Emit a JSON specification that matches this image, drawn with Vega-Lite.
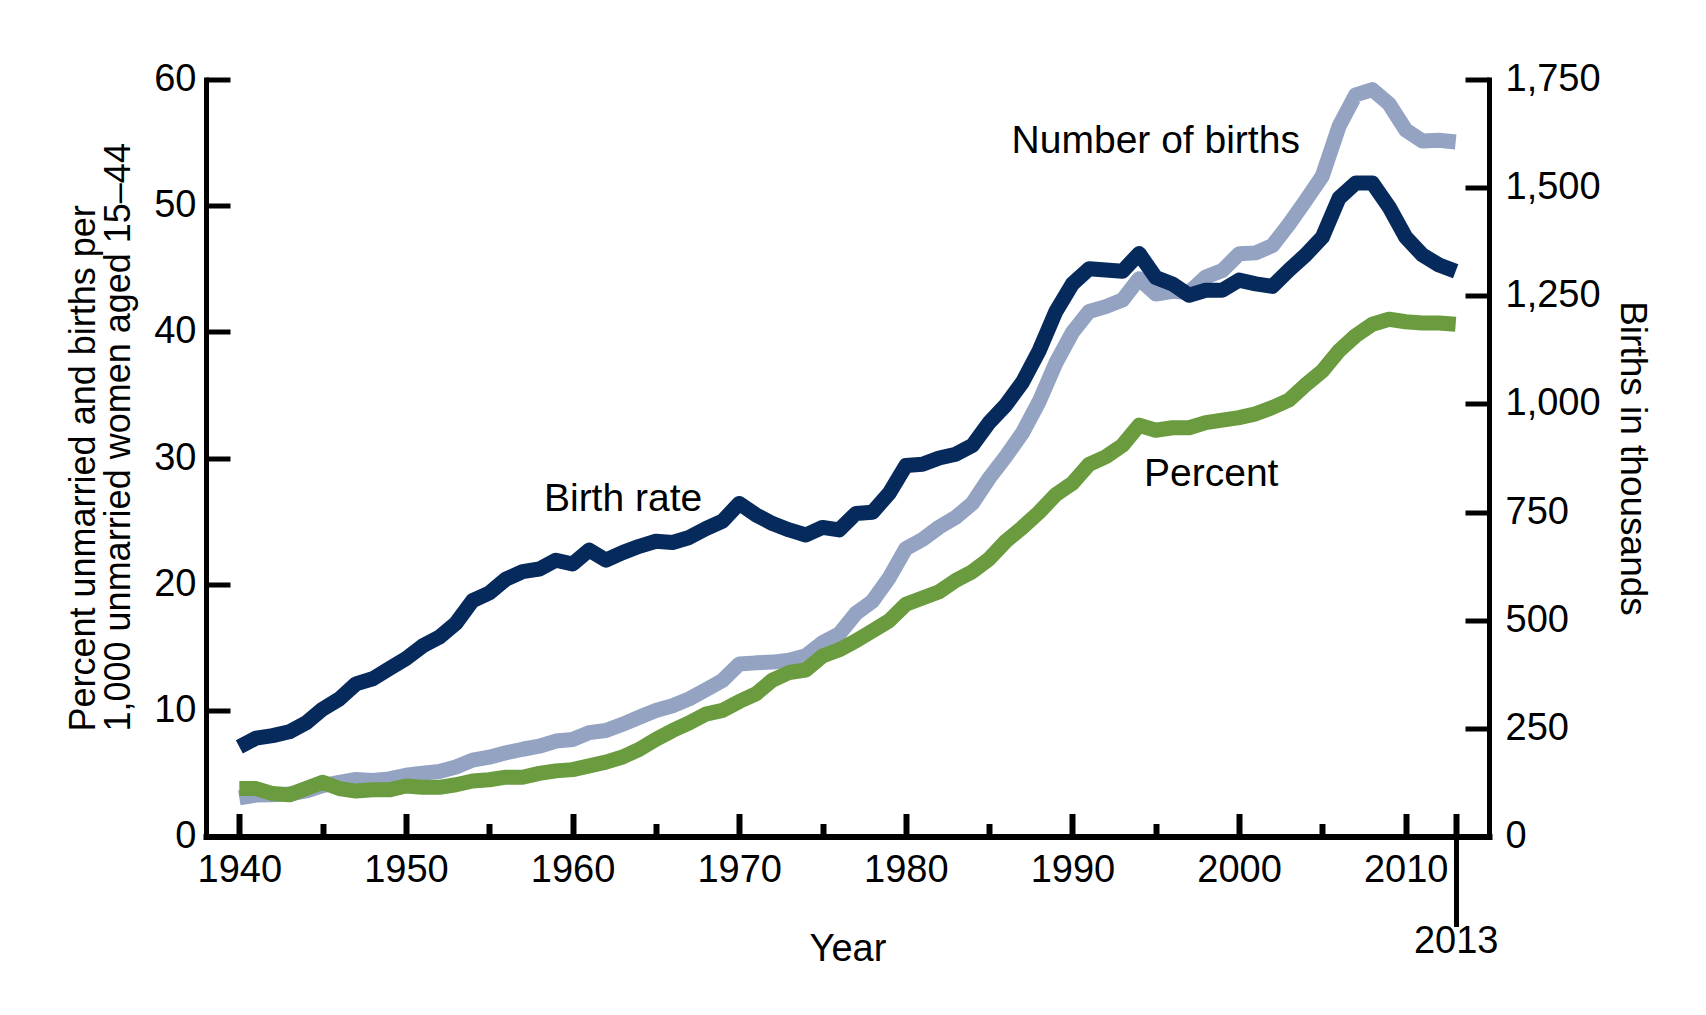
{
  "$schema": "https://vega.github.io/schema/vega-lite/v6.json",
  "width": 1283,
  "height": 757,
  "autosize": {"type": "none"},
  "padding": {"left": 206, "top": 79.5, "right": 217, "bottom": 178.5},
  "background": "white",
  "config": {
    "view": {"stroke": null},
    "font": "Liberation Sans",
    "axis": {
      "grid": false,
      "domainColor": "black",
      "tickColor": "black",
      "labelColor": "black",
      "titleColor": "black",
      "labelFont": "Liberation Sans",
      "titleFont": "Liberation Sans",
      "titleFontWeight": "normal",
      "labelOverlap": false,
      "labelFlush": false
    }
  },
  "data": {
    "values": [
      {"year": 1940, "rate": 7.1, "pct": 3.8, "births": 89.5},
      {"year": 1941, "rate": 7.8, "pct": 3.8, "births": 95.7},
      {"year": 1942, "rate": 8.0, "pct": 3.4, "births": 96.5},
      {"year": 1943, "rate": 8.3, "pct": 3.3, "births": 98.1},
      {"year": 1944, "rate": 9.0, "pct": 3.8, "births": 105.2},
      {"year": 1945, "rate": 10.1, "pct": 4.3, "births": 117.4},
      {"year": 1946, "rate": 10.9, "pct": 3.8, "births": 125.2},
      {"year": 1947, "rate": 12.1, "pct": 3.6, "births": 131.9},
      {"year": 1948, "rate": 12.5, "pct": 3.7, "births": 129.7},
      {"year": 1949, "rate": 13.3, "pct": 3.7, "births": 133.2},
      {"year": 1950, "rate": 14.1, "pct": 4.0, "births": 141.6},
      {"year": 1951, "rate": 15.1, "pct": 3.9, "births": 146.5},
      {"year": 1952, "rate": 15.8, "pct": 3.9, "births": 150.3},
      {"year": 1953, "rate": 16.9, "pct": 4.1, "births": 160.8},
      {"year": 1954, "rate": 18.7, "pct": 4.4, "births": 176.6},
      {"year": 1955, "rate": 19.3, "pct": 4.5, "births": 183.3},
      {"year": 1956, "rate": 20.4, "pct": 4.7, "births": 193.5},
      {"year": 1957, "rate": 21.0, "pct": 4.7, "births": 201.7},
      {"year": 1958, "rate": 21.2, "pct": 5.0, "births": 208.7},
      {"year": 1959, "rate": 21.9, "pct": 5.2, "births": 220.6},
      {"year": 1960, "rate": 21.6, "pct": 5.3, "births": 224.3},
      {"year": 1961, "rate": 22.7, "pct": 5.6, "births": 240.2},
      {"year": 1962, "rate": 21.9, "pct": 5.9, "births": 245.1},
      {"year": 1963, "rate": 22.5, "pct": 6.3, "births": 259.4},
      {"year": 1964, "rate": 23.0, "pct": 6.9, "births": 275.7},
      {"year": 1965, "rate": 23.4, "pct": 7.7, "births": 291.2},
      {"year": 1966, "rate": 23.3, "pct": 8.4, "births": 302.4},
      {"year": 1967, "rate": 23.7, "pct": 9.0, "births": 318.1},
      {"year": 1968, "rate": 24.4, "pct": 9.7, "births": 339.2},
      {"year": 1969, "rate": 25.0, "pct": 10.0, "births": 360.8},
      {"year": 1970, "rate": 26.4, "pct": 10.7, "births": 398.7},
      {"year": 1971, "rate": 25.5, "pct": 11.3, "births": 401.4},
      {"year": 1972, "rate": 24.8, "pct": 12.4, "births": 403.2},
      {"year": 1973, "rate": 24.3, "pct": 13.0, "births": 407.3},
      {"year": 1974, "rate": 23.9, "pct": 13.2, "births": 418.1},
      {"year": 1975, "rate": 24.5, "pct": 14.3, "births": 447.9},
      {"year": 1976, "rate": 24.3, "pct": 14.8, "births": 468.1},
      {"year": 1977, "rate": 25.6, "pct": 15.5, "births": 515.7},
      {"year": 1978, "rate": 25.7, "pct": 16.3, "births": 543.9},
      {"year": 1979, "rate": 27.2, "pct": 17.1, "births": 597.8},
      {"year": 1980, "rate": 29.4, "pct": 18.4, "births": 665.7},
      {"year": 1981, "rate": 29.5, "pct": 18.9, "births": 686.6},
      {"year": 1982, "rate": 30.0, "pct": 19.4, "births": 715.2},
      {"year": 1983, "rate": 30.3, "pct": 20.3, "births": 737.9},
      {"year": 1984, "rate": 31.0, "pct": 21.0, "births": 770.4},
      {"year": 1985, "rate": 32.8, "pct": 22.0, "births": 828.2},
      {"year": 1986, "rate": 34.2, "pct": 23.4, "births": 878.5},
      {"year": 1987, "rate": 36.0, "pct": 24.5, "births": 933.0},
      {"year": 1988, "rate": 38.5, "pct": 25.7, "births": 1005.3},
      {"year": 1989, "rate": 41.6, "pct": 27.1, "births": 1094.2},
      {"year": 1990, "rate": 43.8, "pct": 28.0, "births": 1165.4},
      {"year": 1991, "rate": 45.0, "pct": 29.5, "births": 1213.8},
      {"year": 1992, "rate": 44.9, "pct": 30.1, "births": 1224.9},
      {"year": 1993, "rate": 44.8, "pct": 31.0, "births": 1240.2},
      {"year": 1994, "rate": 46.2, "pct": 32.6, "births": 1289.6},
      {"year": 1995, "rate": 44.3, "pct": 32.2, "births": 1253.9},
      {"year": 1996, "rate": 43.8, "pct": 32.4, "births": 1260.3},
      {"year": 1997, "rate": 42.9, "pct": 32.4, "births": 1257.4},
      {"year": 1998, "rate": 43.3, "pct": 32.8, "births": 1293.6},
      {"year": 1999, "rate": 43.3, "pct": 33.0, "births": 1308.6},
      {"year": 2000, "rate": 44.1, "pct": 33.2, "births": 1347.0},
      {"year": 2001, "rate": 43.8, "pct": 33.5, "births": 1349.2},
      {"year": 2002, "rate": 43.6, "pct": 34.0, "births": 1366.0},
      {"year": 2003, "rate": 44.9, "pct": 34.6, "births": 1415.8},
      {"year": 2004, "rate": 46.1, "pct": 35.8, "births": 1470.2},
      {"year": 2005, "rate": 47.5, "pct": 36.9, "births": 1527.0},
      {"year": 2006, "rate": 50.6, "pct": 38.5, "births": 1641.9},
      {"year": 2007, "rate": 51.8, "pct": 39.7, "births": 1714.6},
      {"year": 2008, "rate": 51.8, "pct": 40.6, "births": 1726.6},
      {"year": 2009, "rate": 49.9, "pct": 41.0, "births": 1693.7},
      {"year": 2010, "rate": 47.5, "pct": 40.8, "births": 1633.5},
      {"year": 2011, "rate": 46.1, "pct": 40.7, "births": 1607.8},
      {"year": 2012, "rate": 45.3, "pct": 40.7, "births": 1609.6},
      {"year": 2013, "rate": 44.8, "pct": 40.6, "births": 1605.6}
    ]
  },
  "layer": [
    {
      "mark": {"type": "line", "color": "#95a3c3", "strokeWidth": 15, "strokeJoin": "round"},
      "encoding": {
        "x": {
          "field": "year", "type": "quantitative",
          "scale": {"domain": [1938, 2015], "nice": false, "zero": false},
          "axis": {
            "orient": "bottom",
            "values": [1940, 1950, 1960, 1970, 1980, 1990, 2000, 2010, 2013],
            "format": "d",
            "labelExpr": "datum.value == 2013 ? '' : datum.label",
            "tickSize": -23, "tickWidth": 6,
            "domainWidth": 6, "domainCap": "square",
            "labelPadding": 38, "labelFontSize": 38,
            "title": "Year", "titleFontSize": 38, "titleY": 93.5
          }
        },
        "y": {
          "field": "births", "type": "quantitative",
          "scale": {"domain": [0, 1750], "nice": false},
          "axis": {
            "orient": "right",
            "values": [0, 250, 500, 750, 1000, 1250, 1500, 1750],
            "format": ",d",
            "tickSize": -24, "tickWidth": 5,
            "domainWidth": 5, "domainCap": "square",
            "labelPadding": 40, "labelFontSize": 38,
            "title": "Births in thousands", "titleFontSize": 37, "titlePadding": 12
          }
        }
      }
    },
    {
      "mark": {"type": "line", "color": "#6a9b3e", "strokeWidth": 15, "strokeJoin": "round"},
      "encoding": {
        "x": {
          "field": "year", "type": "quantitative",
          "scale": {"domain": [1938, 2015], "nice": false, "zero": false},
          "axis": {
            "orient": "bottom",
            "values": [1945, 1955, 1965, 1975, 1985, 1995, 2005],
            "labels": false, "domain": false, "title": null,
            "tickSize": -13, "tickWidth": 6
          }
        },
        "y": {
          "field": "pct", "type": "quantitative",
          "scale": {"domain": [0, 60], "nice": false},
          "axis": {
            "orient": "left",
            "values": [0, 10, 20, 30, 40, 50, 60],
            "tickSize": -24, "tickWidth": 5,
            "domainWidth": 5, "domainCap": "square",
            "labelPadding": 34, "labelFontSize": 38,
            "title": ["Percent unmarried and births per", "1,000 unmarried women aged 15–44"],
            "titleFontSize": 36, "titleLineHeight": 35,
            "titleAngle": -90, "titleAlign": "left", "titleBaseline": "bottom",
            "titleX": -104, "titleY": 651.5
          }
        }
      }
    },
    {
      "mark": {"type": "line", "color": "#062a5c", "strokeWidth": 15, "strokeJoin": "round"},
      "encoding": {
        "x": {
          "field": "year", "type": "quantitative",
          "scale": {"domain": [1938, 2015], "nice": false, "zero": false},
          "axis": {
            "orient": "bottom",
            "values": [2013],
            "format": "d",
            "domain": false, "title": null,
            "tickSize": 90, "tickWidth": 5,
            "labelPadding": -4, "labelFontSize": 38
          }
        },
        "y": {
          "field": "rate", "type": "quantitative",
          "scale": {"domain": [0, 60], "nice": false},
          "axis": null
        }
      }
    },
    {
      "data": {
        "values": [
          {"year": 1963.03, "value": 26.73, "label": "Birth rate"},
          {"year": 1995.0, "value": 55.1, "label": "Number of births"},
          {"year": 1998.33, "value": 28.75, "label": "Percent"}
        ]
      },
      "mark": {"type": "text", "fontSize": 39, "color": "black", "align": "center", "baseline": "middle"},
      "encoding": {
        "x": {
          "field": "year", "type": "quantitative",
          "scale": {"domain": [1938, 2015], "nice": false, "zero": false},
          "axis": null
        },
        "y": {
          "field": "value", "type": "quantitative",
          "scale": {"domain": [0, 60], "nice": false},
          "axis": null
        },
        "text": {"field": "label"}
      }
    }
  ],
  "resolve": {
    "scale": {"y": "independent"},
    "axis": {"x": "independent", "y": "independent"}
  }
}
